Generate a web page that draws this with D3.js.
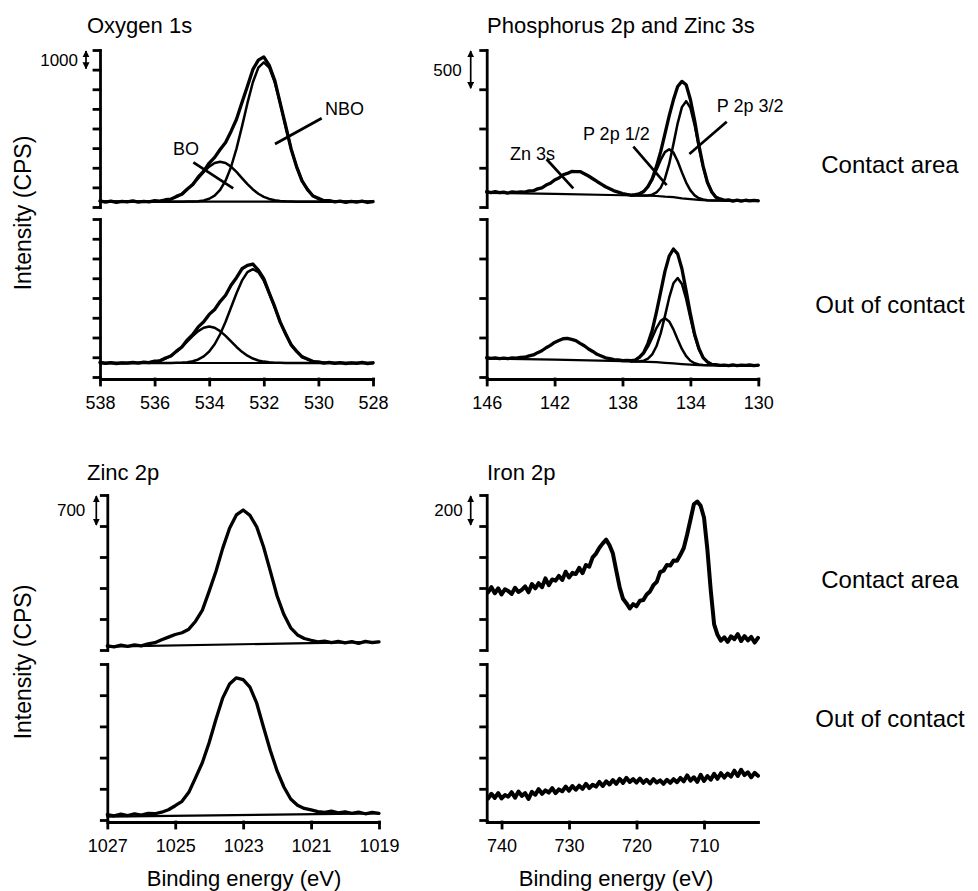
<!DOCTYPE html>
<html>
<head>
<meta charset="utf-8">
<script src="https://cdn.jsdelivr.net/npm/d3@7"></script>
<style>
  html,body{margin:0;padding:0;background:#fff;}
  svg{display:block;}
  text{font-family:"Liberation Sans", Arial, Helvetica, sans-serif; fill:#000;}
</style>
</head>
<body>
<svg id="chart" width="978" height="891"></svg>
<script>
// ---------------- DATA ----------------
const panelTitles = ["Oxygen 1s", "Phosphorus 2p and Zinc 3s", "Zinc 2p", "Iron 2p"];
const rowLabels = ["Contact area", "Out of contact"];
const scaleBarLabels = ["1000", "500", "700", "200"];

// Oxygen 1s (binding energy grid 538 -> 528, 0.2 eV step)
const oxyTicks = [538, 536, 534, 532, 530, 528];
const oxyE = d3.range(0, 51).map(i => +(538 - 0.2 * i).toFixed(2));
const oxyEnvContact = [310,250,300,240,290,260,310,250,290,260,320,300,370,400,540,650,920,1150,1530,1830,2240,2530,2930,3290,3850,4470,5330,6150,7010,7480,7650,7220,6460,5290,4140,2960,2060,1330,900,560,440,320,330,260,300,240,290,250,300,230,280];
const oxyBOContact = [270,270,270,270,270,270,270,270,273,278,288,308,346,412,519,677,895,1167,1475,1787,2059,2245,2310,2245,2059,1787,1475,1167,895,677,519,412,346,308,288,278,273,270,270,270,270,270,270,270,270,270,270,270,270,270,270];
const oxyNBOContact = [270,270,270,270,270,270,270,270,270,270,270,270,270,270,270,270,274,281,298,337,420,582,871,1342,2038,2975,4097,5290,6355,7100,7370,7100,6355,5290,4097,2975,2038,1342,871,582,420,337,298,281,274,270,270,270,270,270,270];
const oxyEnvOut = [740,690,730,680,720,700,740,700,750,730,800,820,960,1060,1310,1520,1880,2150,2540,2800,3170,3420,3820,4140,4650,5030,5480,5650,5720,5410,4980,4250,3560,2780,2190,1630,1310,1020,910,780,770,700,740,690,730,680,720,690,740,680,720];
const oxyBOOut = [710,710,710,710,710,710,713,717,726,744,779,838,935,1078,1274,1520,1799,2081,2326,2494,2553,2494,2326,2081,1799,1520,1274,1078,935,838,779,744,726,717,713,710,710,710,710,710,710,710,710,710,710,710,710,710,710,710,710];
const oxyNBOOut = [710,710,710,710,710,710,710,710,710,710,710,710,710,710,717,729,752,799,888,1041,1290,1659,2164,2798,3517,4244,4876,5308,5460,5308,4876,4244,3517,2798,2164,1659,1290,1041,888,799,752,729,717,710,710,710,710,710,710,710,710];
const oxyBgE = [538, 528];
const oxyBgContact = [270, 270];
const oxyBgOut = [710, 710];

// Phosphorus 2p / Zinc 3s (grid 146 -> 130, 0.25 eV step)
const phosTicks = [146, 142, 138, 134, 130];
const phosE = d3.range(0, 65).map(i => +(146 - 0.25 * i).toFixed(2));
const phosEnvContact = [195,183,196,182,190,178,192,185,193,190,205,208,231,244,279,302,345,370,411,428,452,450,451,424,395,360,325,292,258,232,206,190,172,160,152,158,168,197,262,360,518,705,932,1160,1365,1535,1600,1558,1370,1100,785,520,315,195,125,103,84,90,76,88,74,86,77,85,78];
const phosEnvOut = [244,236,242,233,240,232,241,238,249,250,268,279,308,332,370,401,438,462,484,490,476,461,426,395,354,323,287,266,243,233,220,218,206,210,206,215,252,310,426,590,822,1078,1337,1530,1620,1558,1371,1090,798,540,361,245,192,160,156,147,151,145,152,144,150,146,152,145,149];
const phosCompE = phosE.slice(34, 58);
const p12Contact = [150,155,168,198,255,347,471,600,699,736,693,582,441,311,212,148,112,95,87,84,83,83,82,82];
const p32Contact = [148,147,146,146,148,157,185,245,361,549,801,1066,1272,1348,1262,1043,766,508,315,193,128,99,87,83];
const p12Out = [204,217,245,298,384,497,619,712,745,704,603,475,355,265,206,174,158,152,149,149,148,148,148,148];
const p32Out = [197,197,200,207,232,285,389,552,770,1004,1186,1253,1177,988,746,521,352,245,189,163,153,149,148,148];
const phosBgE = [146,142,138,136.5,136,135.5,135,134.5,134,133.5,133,130];
const phosBgContact = [180,168,150,143,140,131,125,110,100,90,85,80];
const phosBgOut = [232,220,200,192,188,180,172,163,156,151,149,147];

// Zinc 2p (grid 1027 -> 1019, 0.2 eV step)
const zincTicks = [1027, 1025, 1023, 1021, 1019];
const zincE = d3.range(0, 41).map(i => +(1027 - 0.2 * i).toFixed(2));
const zincEnvContact = [95,70,110,80,115,95,140,165,230,290,350,390,470,650,900,1330,1780,2300,2750,3050,3160,3040,2780,2330,1780,1220,800,500,340,260,220,185,200,165,195,160,190,150,195,165,185];
const zincEnvOut = [120,95,130,100,140,110,150,140,175,230,320,420,620,950,1290,1740,2260,2740,3050,3190,3150,2980,2620,2080,1560,1100,740,470,330,260,225,190,170,200,160,185,150,175,140,170,150];
const zincBgE = [1027, 1019];
const zincBgContact = [75, 185];
const zincBgOut = [75, 150];

// Iron 2p (grid 742 -> 702, 0.5 eV step)
const ironTicks = [740, 730, 720, 710];
const ironE = d3.range(0, 81).map(i => 742 - 0.5 * i);
const ironContact = [372,405,366,398,358,392,380,362,401,374,388,410,372,425,398,431,405,462,418,455,447,478,452,505,468,498,490,530,496,548,538,598,622,660,688,712,676,622,512,405,330,302,268,296,282,318,322,358,378,418,440,502,512,548,545,578,576,614,658,745,842,940,958,930,855,648,385,165,98,60,82,52,88,70,102,58,90,62,84,48,78];
const ironOut = [138,168,142,172,138,160,150,178,143,182,155,172,135,180,162,198,168,190,176,204,172,196,184,214,188,218,194,220,200,232,205,226,214,244,218,248,228,256,232,264,238,270,244,262,240,266,238,258,234,262,240,254,232,258,238,262,242,270,248,286,252,274,244,290,250,282,258,296,264,300,272,298,278,316,282,322,288,306,274,302,284];

// ---------------- DRAWING ----------------
const svg = d3.select("#chart");

const cols = {
  O: {x: d3.scaleLinear().domain([538, 528]).range([100, 373]), ticks: oxyTicks, yMax: 8000, step: 1000, bar: scaleBarLabels[0], barDx: 14, labDx: 22},
  P: {x: d3.scaleLinear().domain([146, 130]).range([486.7, 758.3]), ticks: phosTicks, yMax: 2000, step: 500, bar: scaleBarLabels[1], barDx: 16, labDx: 25},
  Z: {x: d3.scaleLinear().domain([1027, 1019]).range([107.3, 379]), ticks: zincTicks, yMax: 3500, step: 700, bar: scaleBarLabels[2], barDx: 11, labDx: 22},
  F: {x: d3.scaleLinear().domain([742.2, 702]).range([486.7, 758]), ticks: ironTicks, yMax: 1000, step: 200, bar: scaleBarLabels[3], barDx: 16, labDx: 24}
};
const rows = {
  top: {up: [207, 50], low: [377, 219], axisY: 379},
  bot: {up: [650, 495], low: [820, 664], axisY: 822}
};

const AX_W = 2.8;
const ENV_W = 3.3, COMP_W = 2.5, BG_W = 2.2;

svg.append("defs").append("marker")
  .attr("id", "ah").attr("viewBox", "0 0 10 10").attr("refX", 9).attr("refY", 5)
  .attr("markerWidth", 4.2).attr("markerHeight", 4.2).attr("markerUnits", "strokeWidth")
  .attr("orient", "auto-start-reverse")
  .append("path").attr("d", "M0,0L10,5L0,10Z").attr("fill", "#000");

function makeY(col, range) {
  return d3.scaleLinear().domain([0, col.yMax]).range(range);
}

function yAxis(col, y, extendTo) {
  const x0 = col.x.range()[0];
  const vals = d3.range(0, col.yMax + 1, col.step);
  const g = svg.append("g").attr("transform", `translate(${x0},0)`)
    .call(d3.axisLeft(y).tickValues(vals).tickSize(6).tickSizeOuter(0).tickFormat(""));
  g.selectAll("path,line").attr("stroke", "#000").attr("stroke-width", AX_W).attr("stroke-linecap", "square");
  if (extendTo != null) {
    g.append("line").attr("x1", 0.5).attr("x2", 0.5).attr("y1", y(0)).attr("y2", extendTo)
      .attr("stroke", "#000").attr("stroke-width", AX_W);
  }
  return g;
}

function xAxis(col, yPos) {
  const g = svg.append("g").attr("transform", `translate(0,${yPos})`)
    .call(d3.axisBottom(col.x).tickValues(col.ticks).tickFormat(d3.format("d"))
      .tickSize(6).tickSizeOuter(0).tickPadding(11));
  g.selectAll("path,line").attr("stroke", "#000").attr("stroke-width", AX_W).attr("stroke-linecap", "square");
  g.selectAll("text").attr("font-size", 18).attr("fill", "#000")
    .style("font-family", '"Liberation Sans", Arial, sans-serif');
}

function scaleBar(col, y) {
  const x0 = col.x.range()[0];
  const xb = x0 - col.barDx;
  const y1 = y(col.yMax), y2 = y(col.yMax - col.step);
  svg.append("line").attr("x1", xb).attr("x2", xb).attr("y1", y1 + 1).attr("y2", y2 - 1)
    .attr("stroke", "#000").attr("stroke-width", 1.7)
    .attr("marker-start", "url(#ah)").attr("marker-end", "url(#ah)");
  svg.append("text").attr("x", x0 - col.labDx).attr("y", (y1 + y2) / 2).attr("dy", "0.35em")
    .attr("text-anchor", "end").attr("font-size", 17).text(col.bar);
}

function curve(col, y, E, vals, w) {
  svg.append("path").datum(vals)
    .attr("fill", "none").attr("stroke", "#000").attr("stroke-width", w)
    .attr("stroke-linejoin", "round").attr("stroke-linecap", "round")
    .attr("d", d3.line().x((d, i) => col.x(E[i])).y(d => y(d)));
}

function note(col, y, text, tx, ty, l) {
  svg.append("text").attr("x", col.x(tx)).attr("y", y(ty)).attr("font-size", 18).text(text);
  svg.append("line").attr("x1", col.x(l[0])).attr("y1", y(l[1])).attr("x2", col.x(l[2])).attr("y2", y(l[3]))
    .attr("stroke", "#000").attr("stroke-width", 2.7);
}

// ---- Oxygen 1s ----
{
  const c = cols.O, r = rows.top;
  const yu = makeY(c, r.up), yl = makeY(c, r.low);
  yAxis(c, yu, null); yAxis(c, yl, r.axisY); xAxis(c, r.axisY); scaleBar(c, yu);
  curve(c, yu, oxyBgE, oxyBgContact, BG_W);
  curve(c, yu, oxyE, oxyBOContact, COMP_W);
  curve(c, yu, oxyE, oxyNBOContact, COMP_W);
  curve(c, yu, oxyE, oxyEnvContact, ENV_W);
  curve(c, yl, oxyBgE, oxyBgOut, BG_W);
  curve(c, yl, oxyE, oxyBOOut, COMP_W);
  curve(c, yl, oxyE, oxyNBOOut, COMP_W);
  curve(c, yl, oxyE, oxyEnvOut, ENV_W);
  note(c, yu, "NBO", 529.76, 4688, [531.59, 3210, 529.88, 4520]);
  note(c, yu, "BO", 535.33, 2650, [534.58, 2278, 533.12, 953]);
}
// ---- Phosphorus 2p / Zinc 3s ----
{
  const c = cols.P, r = rows.top;
  const yu = makeY(c, r.up), yl = makeY(c, r.low);
  yAxis(c, yu, null); yAxis(c, yl, r.axisY); xAxis(c, r.axisY); scaleBar(c, yu);
  curve(c, yu, phosBgE, phosBgContact, BG_W);
  curve(c, yu, phosCompE, p12Contact, COMP_W);
  curve(c, yu, phosCompE, p32Contact, COMP_W);
  curve(c, yu, phosE, phosEnvContact, ENV_W);
  curve(c, yl, phosBgE, phosBgOut, BG_W);
  curve(c, yl, phosCompE, p12Out, COMP_W);
  curve(c, yl, phosCompE, p32Out, COMP_W);
  curve(c, yl, phosE, phosEnvOut, ENV_W);
  note(c, yu, "Zn 3s", 144.63, 599, [142.47, 608, 140.9, 238]);
  note(c, yu, "P 2p 1/2", 140.33, 854, [137.36, 768, 135.40, 280]);
  note(c, yu, "P 2p 3/2", 132.45, 1210, [134.06, 675, 131.86, 1087]);
}
// ---- Zinc 2p ----
{
  const c = cols.Z, r = rows.bot;
  const yu = makeY(c, r.up), yl = makeY(c, r.low);
  yAxis(c, yu, null); yAxis(c, yl, r.axisY); xAxis(c, r.axisY); scaleBar(c, yu);
  curve(c, yu, zincBgE, zincBgContact, BG_W);
  curve(c, yu, zincE, zincEnvContact, ENV_W);
  curve(c, yl, zincBgE, zincBgOut, BG_W);
  curve(c, yl, zincE, zincEnvOut, ENV_W);
}
// ---- Iron 2p ----
{
  const c = cols.F, r = rows.bot;
  const yu = makeY(c, r.up), yl = makeY(c, r.low);
  yAxis(c, yu, null); yAxis(c, yl, r.axisY); xAxis(c, r.axisY); scaleBar(c, yu);
  curve(c, yu, ironE, ironContact, 4);
  curve(c, yl, ironE, ironOut, 4);
}

// ---- Titles and labels ----
const titlePos = [[87, 33], [487, 33], [87, 480], [487, 480]];
panelTitles.forEach((t, i) => {
  svg.append("text").attr("x", titlePos[i][0]).attr("y", titlePos[i][1]).attr("font-size", 22).text(t);
});
[213, 662].forEach(cy => {
  svg.append("text").attr("transform", `translate(31,${cy}) rotate(-90)`)
    .attr("text-anchor", "middle").attr("font-size", 23).text("Intensity (CPS)");
});
[[173, 313], [588, 727]].forEach(pair => {
  pair.forEach((yy, i) => {
    svg.append("text").attr("x", 890).attr("y", yy).attr("text-anchor", "middle")
      .attr("font-size", 24).text(rowLabels[i]);
  });
});
[244, 616].forEach(cx => {
  svg.append("text").attr("x", cx).attr("y", 886).attr("text-anchor", "middle")
    .attr("font-size", 22).text("Binding energy (eV)");
});
</script>
</body>
</html>
